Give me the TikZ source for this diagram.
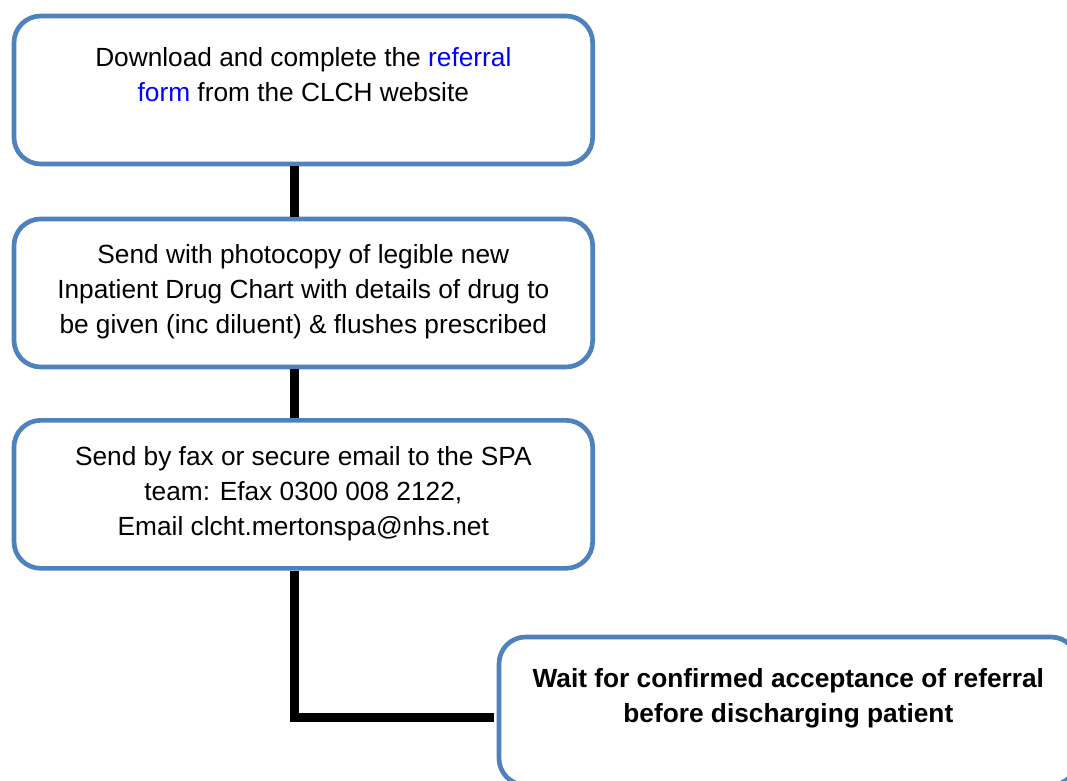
\documentclass[tikz,border=0pt]{standalone}
\usepackage{fontspec}
\setmainfont{Liberation Sans}
\usepackage{tikz}
\usetikzlibrary{arrows,shapes,positioning}
\definecolor{boxblue}{RGB}{79,129,189}
\newcommand{\flowtext}[2]{\parbox[t][111pt][t]{434pt}{\centering\fontsize{19.7pt}{26.25pt}\selectfont\rule{0pt}{#1}#2}}

\begin{document}
\begin{tikzpicture}[x=0.75pt,y=-0.75pt]
                    \tikzstyle{every node}+=[inner sep=0pt, outer sep=0pt]
                    \tikzstyle{flowbox}=[draw=boxblue, line width=3.5pt, rounded corners=20pt, fill=white, anchor=north west]
                    \tikzstyle{flowline}=[draw=black, line width=6.75pt, shorten <=1.8pt, shorten >=1.8pt]
                    \useasboundingbox (0,0) rectangle (1067,781);
                    \node [flowbox] (download) at (14,16) {\flowtext{38.25pt}{Download and complete the \textcolor{blue}{referral}\\\textcolor{blue}{form} from the CLCH website}};
                    \node [flowbox, below=41.25pt of download] (photocopy) {\flowtext{33pt}{Send with photocopy of legible new\\Inpatient Drug Chart with details of drug to\\be given (inc diluent) \& flushes prescribed}};
                    \node [flowbox, below=40pt of photocopy] (spa) {\flowtext{33.75pt}{Send by fax or secure email to the SPA\\team: Efax 0300 008 2122,\\Email clcht.mertonspa@nhs.net}};
                    \node [flowbox] (wait) at (499,637) {\flowtext{37.5pt}{\bfseries Wait for confirmed acceptance of referral\\before discharging patient}};
                    \draw [flowline] ([xshift=-6.75pt]download.south) -- ([xshift=-6.75pt]photocopy.north);
                    \draw [flowline] ([xshift=-6.75pt]photocopy.south) -- ([xshift=-6.75pt]spa.north);
                    \draw [flowline, shorten >=3.4pt] ([xshift=-6.75pt]spa.south) |- ([yshift=-4.9pt]wait.west);
                \end{tikzpicture}
\end{document}
